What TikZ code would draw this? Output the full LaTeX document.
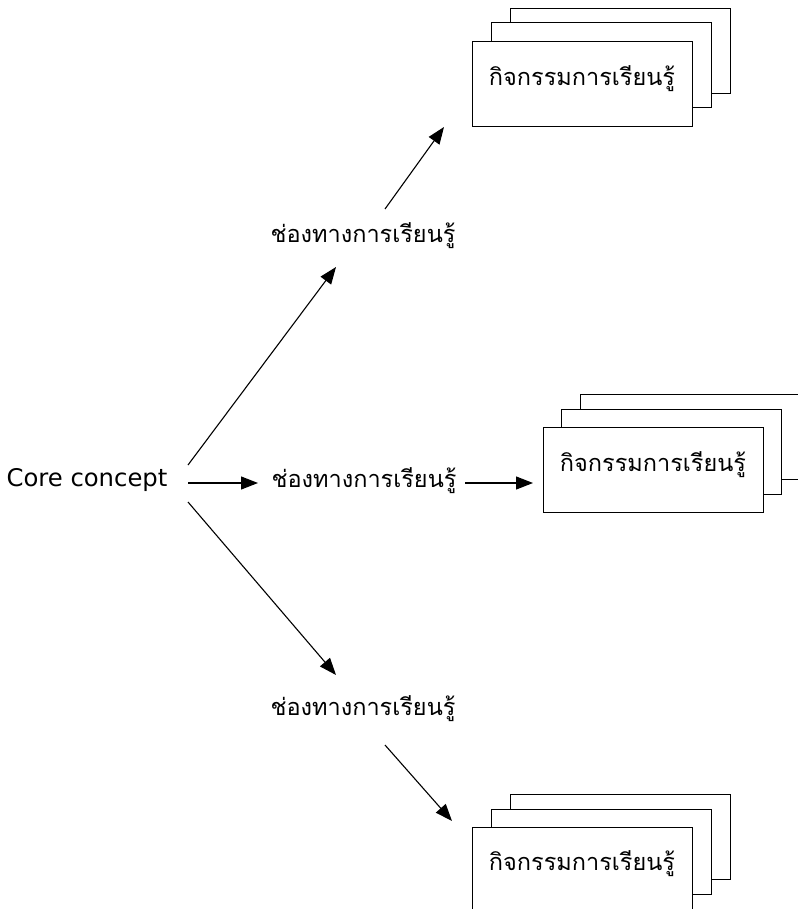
\documentclass[tikz,border=0pt]{standalone}
\usepackage{fontspec}
\newfontfamily\thaifont[Script=Thai]{Loma}
\newfontfamily\latinfont{DejaVu Sans}
\setmainfont{Loma}
\usetikzlibrary{arrows.meta}
\begin{document}
\begin{tikzpicture}[x=1pt,y=-1pt,
  card/.style={draw=black,line width=1pt,fill=white,minimum width=220pt,minimum height=85pt,inner sep=0pt,outer sep=0pt},
  lbl/.style={font=\thaifont\fontsize{23.5}{26}\selectfont,inner sep=0pt,anchor=base},
  arr/.style={-{Triangle[length=17pt,width=13pt]},line width=1.1pt,shorten >=0pt}]
\useasboundingbox (0,0) rectangle (797,909);
% top stack
\node[card] (t3) at (620,51) {};
\node[card] (t2) at (601,65.5) {};
\node[card] (t1) at (582,84.5) {};
\node[lbl] (tt) at ([yshift=-1pt]t1.center) {กิจกรรมการเรียนรู้};
% middle stack
\node[card] (m3) at (690,436.5) {};
\node[card] (m2) at (671.5,451.5) {};
\node[card] (m1) at (653,470) {};
\node[lbl] (mt) at ([yshift=-1pt]m1.center) {กิจกรรมการเรียนรู้};
% bottom stack
\node[card] (b3) at (620,836.5) {};
\node[card] (b2) at (601,851.5) {};
\node[card] (b1) at (582,869.5) {};
\node[lbl] (bt) at ([yshift=-1pt]b1.center) {กิจกรรมการเรียนรู้};
% core and channels
\node[font=\latinfont\fontsize{24.3}{28}\selectfont,inner sep=0pt,anchor=base] (core) at (87,486) {Core concept};
\node[lbl] (c1) at (363,243) {ช่องทางการเรียนรู้};
\node[lbl] (c2) at (364,487) {ช่องทางการเรียนรู้};
\node[lbl] (c3) at (363,715) {ช่องทางการเรียนรู้};
% connector end points
\coordinate (a1s) at (188,465); \coordinate (a1e) at (336,267);
\coordinate (a2s) at (188,483); \coordinate (a2e) at (258,483);
\coordinate (a3s) at (188,502); \coordinate (a3e) at (336,675);
\coordinate (b1s) at (385,209); \coordinate (b1e) at (444,127);
\coordinate (b2s) at (465,483); \coordinate (b2e) at (533,483);
\coordinate (b3s) at (385,745); \coordinate (b3e) at (452,821);
\draw[arr] (a1s) -- (a1e);
\draw[arr] (a2s) -- (a2e);
\draw[arr] (a3s) -- (a3e);
\draw[arr] (b1s) -- (b1e);
\draw[arr] (b2s) -- (b2e);
\draw[arr] (b3s) -- (b3e);
\end{tikzpicture}
\end{document}
